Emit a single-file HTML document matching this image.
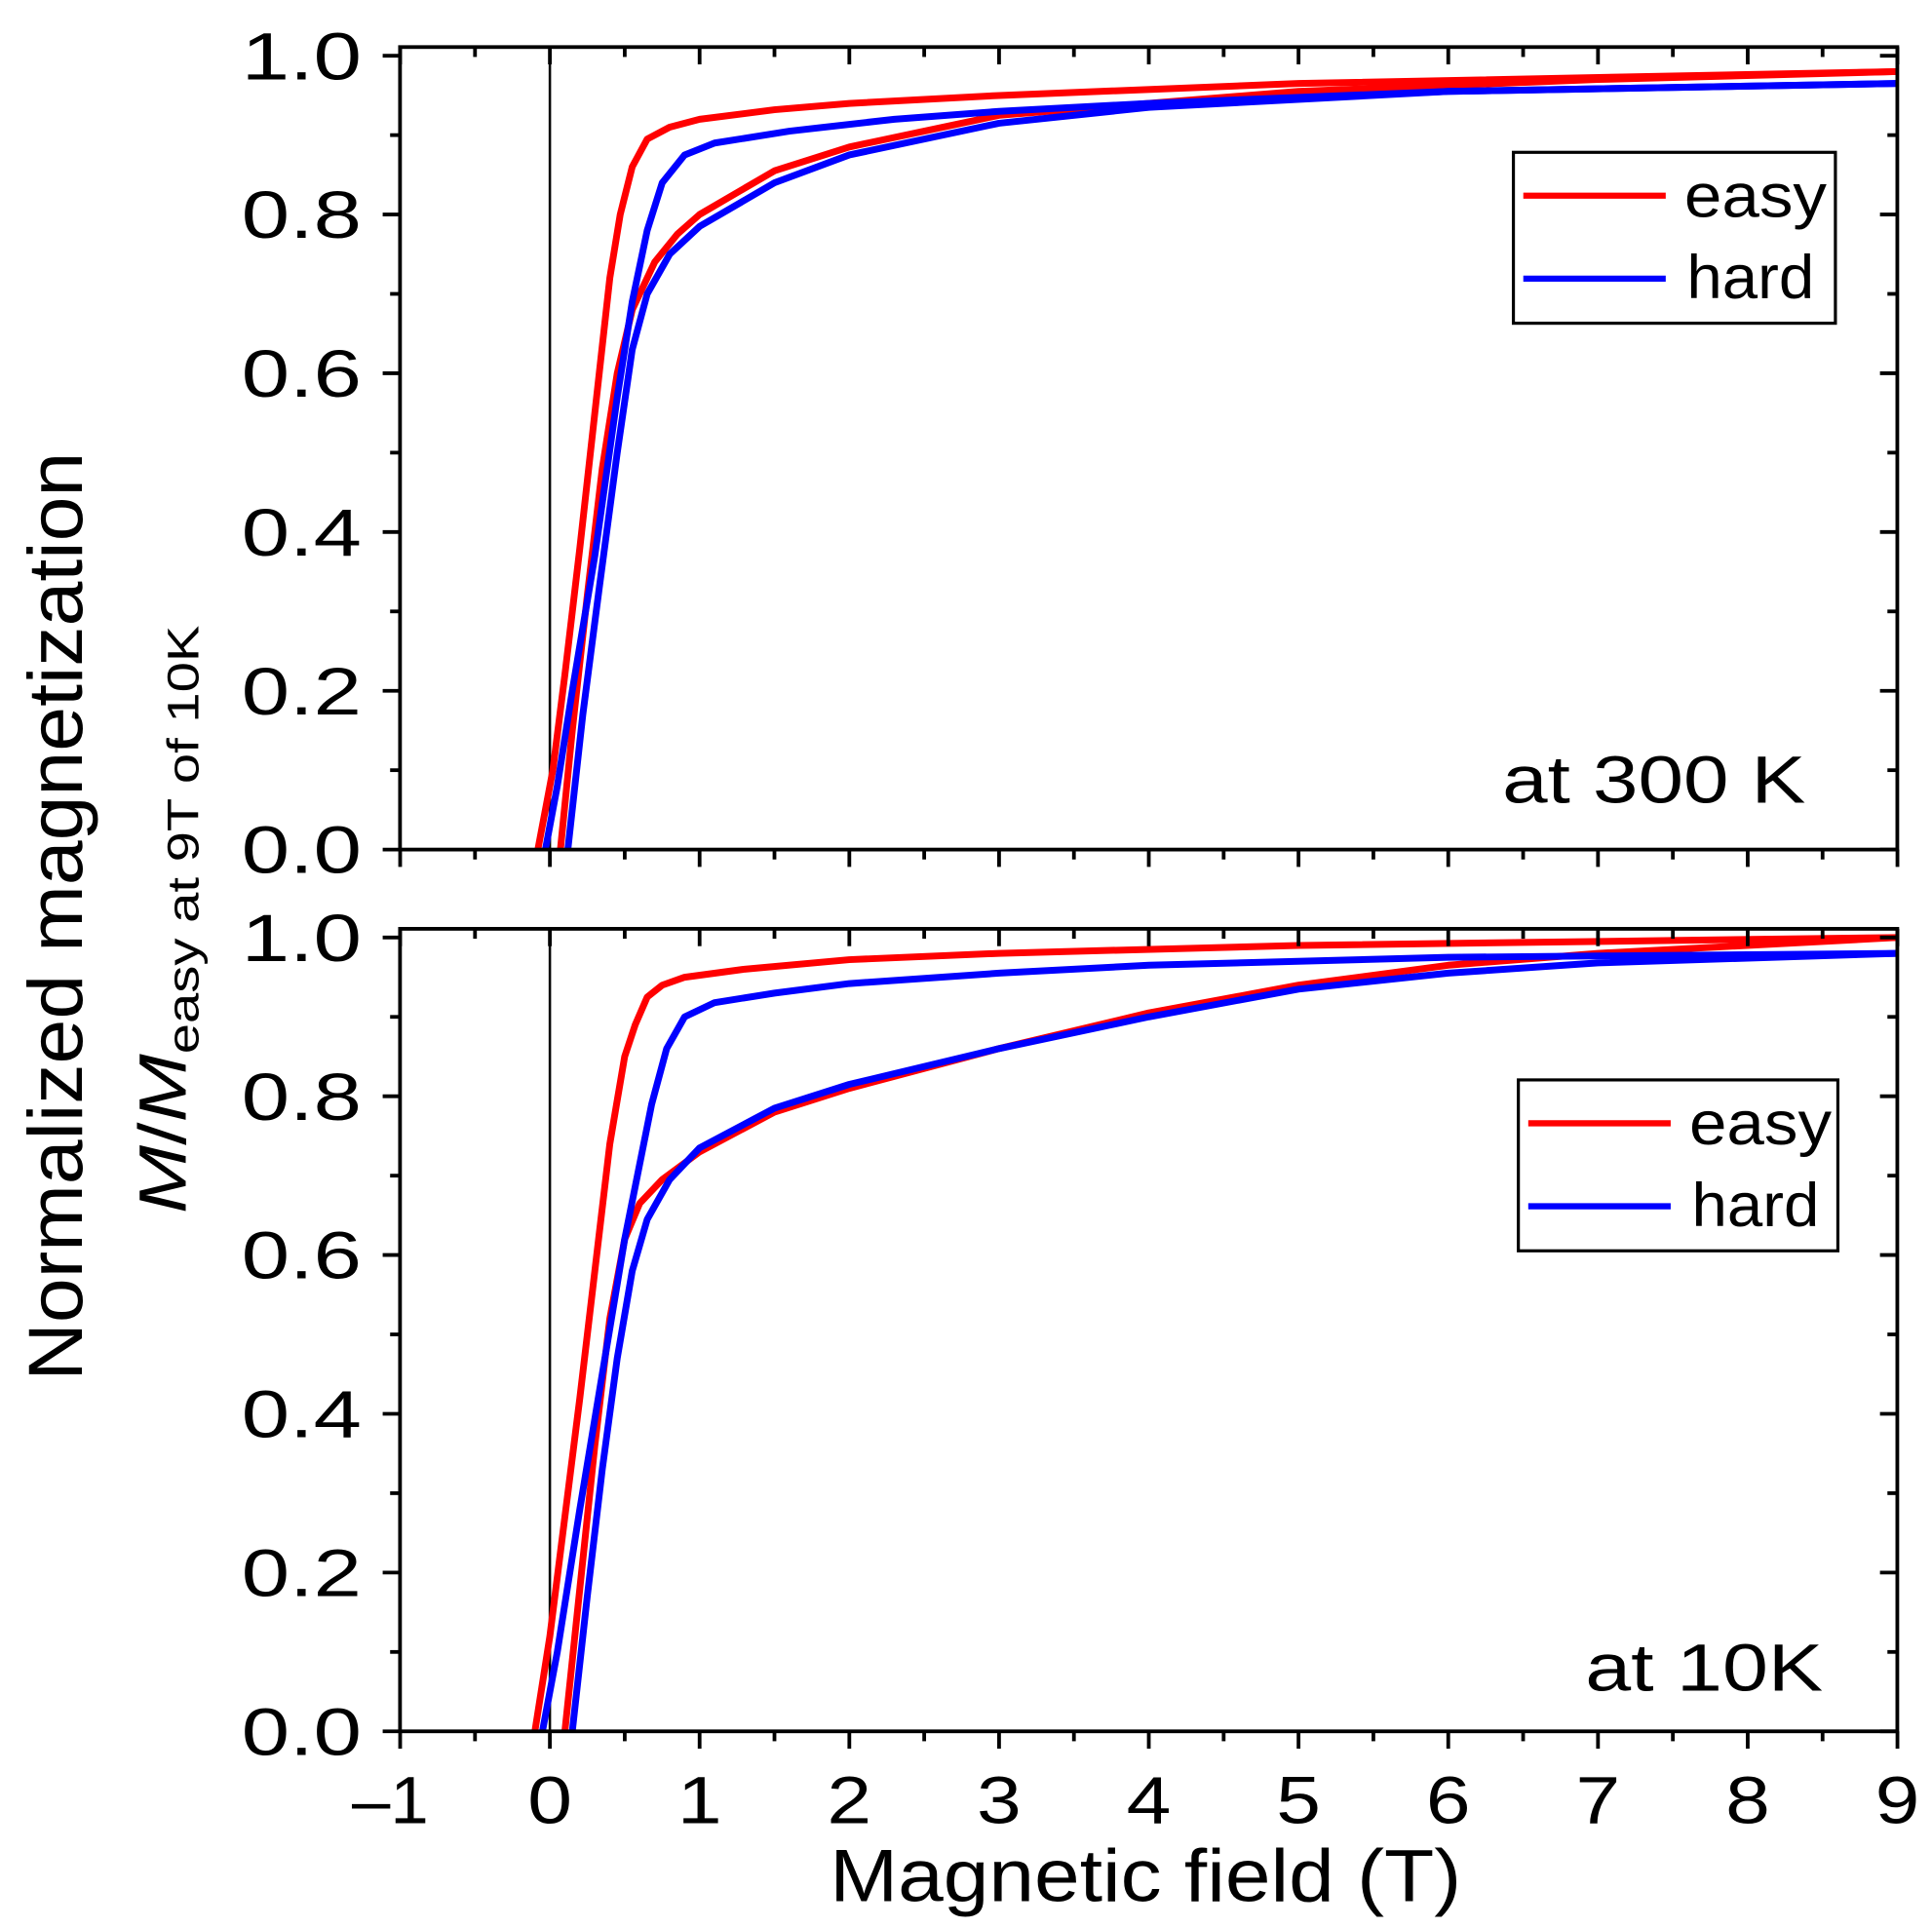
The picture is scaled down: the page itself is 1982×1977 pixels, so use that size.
<!DOCTYPE html>
<html><head><meta charset="utf-8"><style>
html,body{margin:0;padding:0;background:#fff;}
svg{display:block;}
text{font-family:"Liberation Sans",sans-serif;fill:#000;}
</style></head><body>
<svg id="s" width="1982" height="1977" viewBox="0 0 1560 1556" preserveAspectRatio="none" xmlns="http://www.w3.org/2000/svg">
<g id="g"></g>
<text x="925" y="1535" font-size="60" text-anchor="middle" textLength="510" lengthAdjust="spacingAndGlyphs">Magnetic field (T)</text>
<text transform="translate(66,740) rotate(-90)" font-size="62" text-anchor="middle" textLength="750" lengthAdjust="spacingAndGlyphs">Normalized magnetization</text>
<text transform="translate(150,980) rotate(-90)" font-size="54" textLength="475" lengthAdjust="spacingAndGlyphs"><tspan font-style="italic">M</tspan>/<tspan font-style="italic">M</tspan><tspan font-size="36" dy="10">easy at 9T of 10K</tspan></text>
<text x="1213" y="648" font-size="54" textLength="245" lengthAdjust="spacingAndGlyphs">at 300 K</text>
<text x="1280" y="1365" font-size="54" textLength="192" lengthAdjust="spacingAndGlyphs">at 10K</text>
</svg>
<script>
var g=document.getElementById('g');var h='';
function X(v){return 444+120.9*v;}
function line(x1,y1,x2,y2,c,w){h+='<line x1="'+x1+'" y1="'+y1+'" x2="'+x2+'" y2="'+y2+'" stroke="'+(c||'#000')+'" stroke-width="'+(w||3)+'"/>';}
function txt(x,y,s,fs,anchor,len){h+='<text x="'+x+'" y="'+y+'" font-size="'+fs+'" text-anchor="'+anchor+'" textLength="'+len+'" lengthAdjust="spacingAndGlyphs">'+s+'</text>';}
var panels=[
 {y0:686,top:38,series:[
  ['red',[[9,0.98],[5,0.965],[3,0.95],[2,0.94],[1.5,0.932],[1,0.92],[0.8,0.91],[0.65,0.895],[0.55,0.86],[0.47,0.8],[0.4,0.72],[0.3,0.55],[0.2,0.38],[0.1,0.22],[0.02,0.1],[-0.08,0]]],
  ['red',[[0.07,0],[0.15,0.15],[0.25,0.32],[0.35,0.48],[0.45,0.6],[0.55,0.68],[0.7,0.74],[0.85,0.775],[1,0.8],[1.5,0.855],[2,0.885],[3,0.925],[5,0.955],[7,0.97],[9,0.98]]],
  ['blue',[[9,0.965],[6,0.955],[4,0.94],[3,0.93],[2.3,0.92],[1.6,0.905],[1.1,0.89],[0.9,0.875],[0.75,0.84],[0.65,0.78],[0.55,0.69],[0.45,0.57],[0.3,0.37],[0.15,0.2],[0.05,0.08],[-0.03,0]]],
  ['blue',[[0.12,0],[0.22,0.17],[0.33,0.33],[0.45,0.5],[0.55,0.63],[0.65,0.7],[0.8,0.75],[1,0.785],[1.5,0.84],[2,0.875],[3,0.915],[4,0.935],[6,0.955],[9,0.965]]]
 ],leg:[1222,123,260,138]},
 {y0:1398,top:750,series:[
  ['red',[[9,1.0],[5,0.99],[3,0.98],[2,0.972],[1.3,0.96],[0.9,0.95],[0.75,0.94],[0.65,0.925],[0.57,0.89],[0.5,0.85],[0.4,0.74],[0.3,0.58],[0.2,0.42],[0.1,0.27],[0,0.12],[-0.1,0]]],
  ['red',[[0.1,0],[0.2,0.18],[0.3,0.36],[0.4,0.52],[0.5,0.62],[0.6,0.665],[0.75,0.695],[1,0.73],[1.5,0.78],[2,0.81],[3,0.86],[4,0.905],[5,0.94],[6,0.965],[7,0.98],[9,1.0]]],
  ['blue',[[9,0.98],[6,0.975],[4,0.965],[3,0.955],[2,0.942],[1.5,0.93],[1.1,0.918],[0.9,0.9],[0.78,0.86],[0.68,0.79],[0.5,0.62],[0.35,0.45],[0.2,0.28],[0.05,0.1],[-0.05,0]]],
  ['blue',[[0.15,0],[0.25,0.17],[0.35,0.33],[0.45,0.47],[0.55,0.58],[0.65,0.645],[0.8,0.695],[1,0.735],[1.5,0.785],[2,0.815],[3,0.86],[4,0.9],[5,0.935],[6,0.955],[7,0.968],[9,0.98]]]
 ],leg:[1226,872,258,138]}
];
panels.forEach(function(p,pi){
 var Y=function(m){return p.y0-641*m;};
 var L=323,R=1532,T=p.top,B=p.y0;
 line(X(0),T,X(0),B,'#000',2);
 p.series.forEach(function(s){
  var d='M'+s[1].map(function(q){return X(q[0]).toFixed(1)+','+Y(q[1]).toFixed(1);}).join(' L');
  h+='<path d="'+d+'" fill="none" stroke="'+(s[0]=='red'?'#ff0000':'#0000ff')+'" stroke-width="5.5" stroke-linejoin="round"/>';
 });
 for(var i=0;i<=10;i++){var yy=Y(i/10);var len=(i%2==0)?14:8;
  line(L-len,yy,L,yy);line(R,yy,R-len,yy);
  if(i%2==0) txt(292,yy+19,(i/10).toFixed(1),54,'end',97);}
 for(var v=-1;v<=9;v+=0.5){var xx=X(v);var len=(Math.abs(v%1)<1e-9)?14:8;
  line(xx,B,xx,B+len);line(xx,T,xx,T+len);
  if(pi==1&&Math.abs(v%1)<1e-9){var s=(v<0?'\u2013':'')+Math.abs(v);txt(xx-(v<0?8:0),1472,s,54,'middle',v<0?62:36);}}
 h+='<rect x="'+L+'" y="'+T+'" width="'+(R-L)+'" height="'+(B-T)+'" fill="none" stroke="#000" stroke-width="3"/>';
 var l=p.leg;
 h+='<rect x="'+l[0]+'" y="'+l[1]+'" width="'+l[2]+'" height="'+l[3]+'" fill="none" stroke="#000" stroke-width="2.5"/>';
 line(l[0]+8,l[1]+35,l[0]+123,l[1]+35,'#ff0000',5);
 line(l[0]+8,l[1]+102,l[0]+123,l[1]+102,'#0000ff',5);
 txt(l[0]+138,l[1]+52,'easy',50,'start',115);
 txt(l[0]+140,l[1]+118,'hard',50,'start',103);
});
g.innerHTML=h;
</script>
</body></html>
